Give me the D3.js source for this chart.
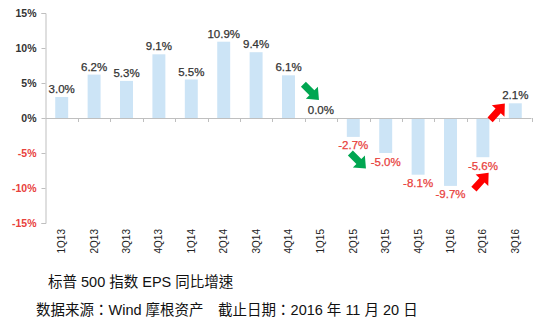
<!DOCTYPE html>
<html><head><meta charset="utf-8">
<script src="https://cdn.jsdelivr.net/npm/d3@7"></script>
<style>body{margin:0;background:#fff;}svg{display:block;font-family:"Liberation Sans",Arial,sans-serif;}</style>
</head><body><svg id="c" width="550" height="323"></svg>
<script>
const categories = ["1Q13","2Q13","3Q13","4Q13","1Q14","2Q14","3Q14","4Q14","1Q15","2Q15","3Q15","4Q15","1Q16","2Q16","3Q16"];
const values = [3.0,6.2,5.3,9.1,5.5,10.9,9.4,6.1,0.0,-2.7,-5.0,-8.1,-9.7,-5.6,2.1];
const yTicks = [15,10,5,0,-5,-10,-15];
const title = "标普 500 指数 EPS 同比增速";
const source = "数据来源：Wind 摩根资产　截止日期：2016 年 11 月 20 日";
// annotation arrows: [category position (band units), value, colour, angle]
const arrows = [
  {pos: 8.2, v: 3.7, color: "#00a651", angle: 45},
  {pos: 9.65, v: -6.1, color: "#00a651", angle: 45},
  {pos: 13.45, v: -9.0, color: "#ff0000", angle: -48},
  {pos: 13.95, v: 0.9, color: "#ff0000", angle: -48}
];

const svg = d3.select("#c");
const x = d3.scaleBand().domain(categories).range([45.5, 531.5]).paddingInner(0.6).paddingOuter(0.3);
const y = d3.scaleLinear().domain([-15, 15]).range([223, 13]);
const step = x.step();
const x0 = 45.5;

// bars
svg.append("g").selectAll("rect").data(values).join("rect")
  .attr("x", (d,i) => x(categories[i]))
  .attr("width", x.bandwidth())
  .attr("y", d => y(Math.max(0, d)))
  .attr("height", d => Math.abs(y(d) - y(0)))
  .attr("fill", "#cce4f6");

// y axis
const ya = svg.append("g").attr("transform", "translate(45.5,0)")
  .call(d3.axisLeft(y).tickValues(yTicks).tickSize(4).tickFormat(d => d + "%"));
ya.select(".domain").attr("stroke", "#bfbfbf");
ya.selectAll(".tick line").attr("stroke", "#bfbfbf");
ya.selectAll(".tick text").attr("font-size", 10.5).attr("font-weight", "bold")
  .attr("font-family", "Liberation Sans, Arial, sans-serif")
  .attr("fill", d => d < 0 ? "#e8413c" : "#333").attr("dx", "-2");

// x axis at zero
const xa = svg.append("g").attr("transform", `translate(0,${y(0)})`);
xa.append("line").attr("x1", x0).attr("x2", 531.5).attr("y1", 0.5).attr("y2", 0.5).attr("stroke", "#bfbfbf");
xa.selectAll("line.tk").data(d3.range(1, categories.length + 1)).join("line").attr("class","tk")
  .attr("x1", i => Math.round(x0 + i * step) + 0.5).attr("x2", i => Math.round(x0 + i * step) + 0.5)
  .attr("y1", 0).attr("y2", 4).attr("stroke", "#bfbfbf");

// category labels (rotated)
svg.append("g").selectAll("text").data(categories).join("text")
  .attr("transform", d => `translate(${x(d) + x.bandwidth()/2 + 3.5},229) rotate(-90)`)
  .attr("text-anchor", "end").attr("font-size", 10).attr("fill", "#222")
  .text(d => d);

// value labels
svg.append("g").selectAll("text").data(values).join("text")
  .attr("x", (d,i) => x(categories[i]) + x.bandwidth()/2)
  .attr("y", d => d < 0 ? y(d) + 12.5 : y(d) - 4)
  .attr("text-anchor", "middle").attr("font-size", 11.5)
  .attr("fill", d => d < 0 ? "#e8413c" : "#333")
  .attr("stroke", d => d < 0 ? "#e8413c" : "#333").attr("stroke-width", 0.25)
  .text(d => d.toFixed(1) + "%");

// arrows
svg.append("g").selectAll("path").data(arrows).join("path")
  .attr("d", "M-11,-3.5 L1,-3.5 L1,-8.5 L11,0 L1,8.5 L1,3.5 L-11,3.5 Z")
  .attr("fill", d => d.color)
  .attr("transform", d => `translate(${x0 + d.pos * step},${y(d.v)}) rotate(${d.angle})`);

// titles
svg.append("text").attr("x", 48).attr("y", 287).attr("font-size", 14.5).attr("fill", "#111")
  .attr("font-family", "Liberation Sans, 'Noto Sans CJK TC', sans-serif").text(title);
svg.append("text").attr("x", 36).attr("y", 315).attr("font-size", 14.5).attr("fill", "#111")
  .attr("font-family", "Liberation Sans, 'Noto Sans CJK TC', sans-serif").text(source);
</script></body></html>
